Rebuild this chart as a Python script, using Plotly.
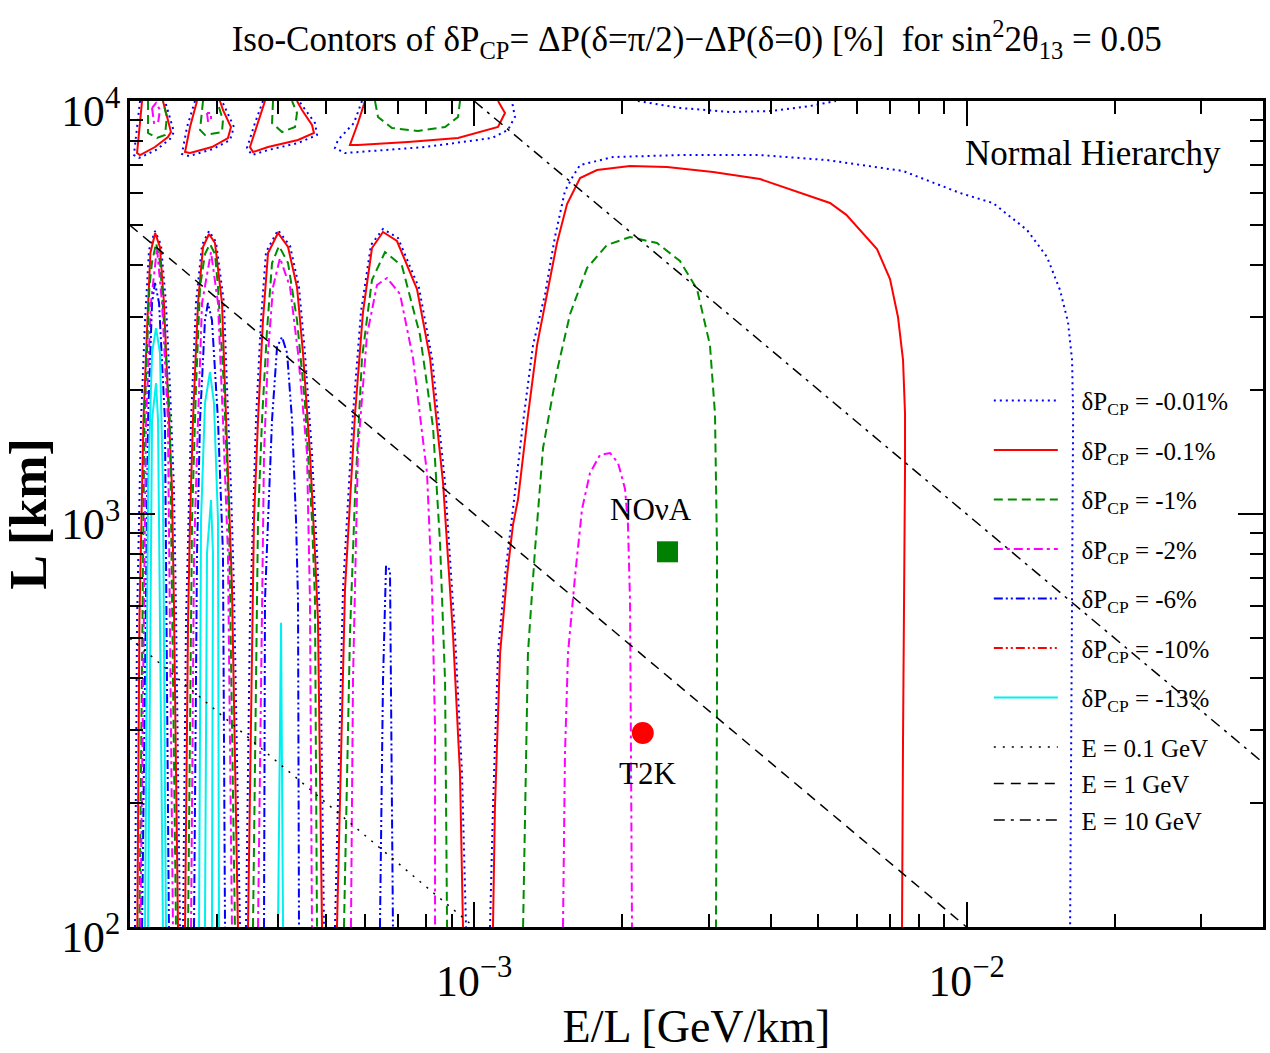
import numpy as np
import plotly.graph_objects as go

# ---------------- data (x = E/L [GeV/km], y = L [km]) ----------------
# dP = -0.01 %  (blue dotted)
b001_l1_x = [2.047e-4, 2.067e-4, 2.106e-4, 2.146e-4, 2.186e-4, 2.248e-4, 2.312e-4, 2.366e-4, 2.411e-4, 2.456e-4, 2.479e-4, 2.527e-4]
b001_l1_y = [100, 554, 1689, 2949, 4357, 4844, 4480, 3243, 2030, 1163, 609, 100]
b001_l2_x = [2.563e-4, 2.599e-4, 2.661e-4, 2.723e-4, 2.801e-4, 2.894e-4, 2.990e-4, 3.104e-4, 3.148e-4, 3.207e-4, 3.252e-4, 3.345e-4]
b001_l2_y = [100, 554, 1689, 3243, 4480, 4844, 4556, 3243, 2030, 1163, 666, 100]
b001_l3_x = [3.440e-4, 3.505e-4, 3.605e-4, 3.690e-4, 3.778e-4, 3.996e-4, 4.227e-4, 4.408e-4, 4.533e-4, 4.684e-4, 4.795e-4, 4.863e-4, 4.955e-4]
b001_l3_y = [100, 554, 1689, 2949, 4308, 4871, 4455, 3545, 2454, 1405, 805, 554, 100]
b001_l4_x = [5.216e-4, 5.415e-4, 5.674e-4, 5.890e-4, 6.172e-4, 6.529e-4, 7.003e-4, 7.727e-4, 8.212e-4, 8.728e-4, 9.144e-4, 9.447e-4, 9.626e-4]
b001_l4_y = [100, 658, 1746, 3084, 4480, 4899, 4659, 3526, 2387, 1189, 509, 236, 100]
b001_tA_x = [2.096e-4, 2.037e-4, 2.086e-4, 2.259e-4, 2.411e-4, 2.456e-4, 2.411e-4, 2.355e-4]
b001_tA_y = [10000, 7398, 7278, 7609, 8091, 8412, 9096, 10000]
b001_tB_x = [2.710e-4, 2.611e-4, 2.550e-4, 2.636e-4, 2.948e-4, 3.192e-4, 3.252e-4, 3.119e-4, 3.075e-4]
b001_tB_y = [10000, 8650, 7440, 7357, 7651, 8046, 8650, 9619, 10000]
b001_tC_x = [3.725e-4, 3.588e-4, 3.456e-4, 3.538e-4, 3.814e-4, 4.388e-4, 4.795e-4, 4.750e-4, 4.512e-4, 4.408e-4]
b001_tC_y = [10000, 8846, 7694, 7398, 7609, 7912, 8273, 8846, 9619, 10000]
b001_tD_x = [5.918e-4, 5.700e-4, 5.289e-4, 5.216e-4, 5.466e-4, 7.947e-4, 1.087e-3, 1.171e-3, 1.210e-3, 1.193e-3]
b001_tD_y = [10000, 8846, 8046, 7694, 7482, 7737, 8136, 8507, 9148, 10000]
b001_arc_x = [2.15e-3, 2.62e-3, 3.31e-3, 4.01e-3, 4.81e-3, 5.43e-3]
b001_arc_y = [10000, 9619, 9406, 9458, 9725, 10000]
b001_big_x = [1.077e-3, 1.092e-3, 1.118e-3, 1.155e-3, 1.199e-3, 1.257e-3, 1.317e-3, 1.393e-3, 1.459e-3, 1.529e-3,
              1.588e-3, 1.641e-3, 1.914e-3, 2.618e-3, 3.806e-3, 5.206e-3, 7.430e-3, 9.701e-3, 1.132e-2, 1.327e-2,
              1.457e-2, 1.548e-2, 1.607e-2, 1.638e-2, 1.646e-2, 1.638e-2, 1.623e-2]
b001_big_y = [100, 195, 461, 708, 1028, 1670, 2565, 3409, 4685, 6054,
              6583, 6998, 7317, 7398, 7398, 7195, 6769, 5987, 5662, 4871,
              4190, 3486, 2917, 2360, 1746, 524, 100]

# dP = -0.1 %  (red solid)
r01_l1_x = [2.07e-4, 2.09e-4, 2.11e-4, 2.13e-4, 2.17e-4, 2.20e-4, 2.25e-4, 2.30e-4, 2.344e-4, 2.388e-4, 2.433e-4, 2.456e-4, 2.503e-4]
r01_l1_y = [100, 554, 967, 1689, 2949, 4285, 4790, 4430, 3243, 2030, 1163, 609, 100]
r01_l2_x = [2.587e-4, 2.624e-4, 2.648e-4, 2.685e-4, 2.749e-4, 2.814e-4, 2.894e-4, 2.976e-4, 3.075e-4, 3.119e-4, 3.177e-4, 3.222e-4, 3.313e-4]
r01_l2_y = [100, 554, 967, 1689, 3243, 4430, 4764, 4530, 3243, 2030, 1163, 666, 100]
r01_l3_x = [3.473e-4, 3.538e-4, 3.571e-4, 3.639e-4, 3.725e-4, 3.814e-4, 3.996e-4, 4.188e-4, 4.367e-4, 4.491e-4, 4.640e-4, 4.750e-4, 4.817e-4, 4.909e-4]
r01_l3_y = [100, 554, 967, 1689, 2949, 4285, 4790, 4430, 3545, 2454, 1405, 805, 554, 100]
r01_l4_x = [5.265e-4, 5.466e-4, 5.728e-4, 5.946e-4, 6.201e-4, 6.529e-4, 6.970e-4, 7.654e-4, 8.135e-4, 8.646e-4, 9.059e-4, 9.359e-4, 9.491e-4]
r01_l4_y = [100, 658, 1746, 3084, 4405, 4817, 4581, 3505, 2387, 1189, 509, 236, 100]
r01_tA_x = [2.116e-4, 2.067e-4, 2.096e-4, 2.248e-4, 2.388e-4, 2.422e-4, 2.388e-4, 2.333e-4]
r01_tA_y = [10000, 7482, 7398, 7737, 8181, 8412, 8995, 10000]
r01_tB_x = [2.736e-4, 2.648e-4, 2.587e-4, 2.648e-4, 2.934e-4, 3.162e-4, 3.207e-4, 3.089e-4, 3.046e-4]
r01_tB_y = [10000, 8650, 7524, 7482, 7737, 8136, 8650, 9511, 10000]
r01_tC_x = [3.760e-4, 3.639e-4, 3.505e-4, 3.555e-4, 3.814e-4, 4.388e-4, 4.728e-4, 4.684e-4, 4.470e-4, 4.367e-4]
r01_tC_y = [10000, 8846, 7737, 7524, 7737, 8046, 8366, 8748, 9511, 10000]
r01_tD_x = [6.002e-4, 5.808e-4, 5.594e-4, 5.808e-4, 7.338e-4, 9.273e-4, 1.118e-3, 1.155e-3, 1.118e-3]
r01_tD_y = [10000, 8846, 7825, 7825, 7956, 8136, 8650, 9353, 10000]
r01_big_x = [1.092e-3, 1.102e-3, 1.129e-3, 1.166e-3, 1.199e-3, 1.228e-3, 1.281e-3, 1.342e-3, 1.406e-3, 1.473e-3,
             1.544e-3, 1.641e-3, 1.776e-3, 2.073e-3, 2.464e-3, 3.055e-3, 3.806e-3, 4.442e-3, 5.280e-3, 5.700e-3,
             6.075e-3, 6.578e-3, 6.991e-3, 7.257e-3, 7.430e-3, 7.500e-3, 7.500e-3, 7.464e-3, 7.430e-3, 7.395e-3]
r01_big_y = [100, 195, 461, 708, 941, 1087, 1670, 2565, 3409, 4530,
             5631, 6510, 6807, 6960, 6921, 6731, 6474, 6088, 5662, 5300,
             4871, 4381, 3707, 2999, 2360, 1746, 1293, 708, 287, 100]

# dP = -1 %  (green dashed)
g1_l1_x = [2.09e-4, 2.14e-4, 2.19e-4, 2.217e-4, 2.26e-4, 2.301e-4, 2.32e-4, 2.41e-4, 2.48e-4]
g1_l1_y = [100, 1689, 3545, 4075, 4530, 4075, 3545, 1689, 100]
g1_l2_x = [2.624e-4, 2.673e-4, 2.723e-4, 2.775e-4, 2.840e-4, 2.907e-4, 2.976e-4, 3.018e-4, 3.104e-4, 3.177e-4, 3.267e-4]
g1_l2_y = [100, 967, 2030, 3545, 4262, 4505, 4262, 3545, 2030, 967, 100]
g1_l3_x = [3.555e-4, 3.639e-4, 3.708e-4, 3.796e-4, 3.886e-4, 4.015e-4, 4.188e-4, 4.367e-4, 4.533e-4, 4.684e-4, 4.750e-4, 4.795e-4]
g1_l3_y = [100, 967, 1689, 2789, 4052, 4455, 4052, 2949, 1857, 967, 619, 100]
g1_l4_x = [5.440e-4, 5.594e-4, 5.728e-4, 5.918e-4, 6.201e-4, 6.591e-4, 7.136e-4, 7.762e-4, 8.250e-4, 8.525e-4, 8.728e-4, 8.810e-4]
g1_l4_y = [100, 509, 1106, 2387, 3687, 4308, 3985, 2713, 1624, 851, 394, 100]
g1_tA_x = [2.176e-4, 2.176e-4, 2.269e-4, 2.355e-4, 2.377e-4, 2.333e-4]
g1_tA_y = [10000, 8366, 8136, 8273, 9148, 10000]
g1_tB_x = [2.814e-4, 2.775e-4, 2.840e-4, 3.075e-4, 3.089e-4, 3.004e-4]
g1_tB_y = [10000, 8507, 8273, 8412, 8995, 10000]
g1_tC_x = [3.904e-4, 3.886e-4, 4.072e-4, 4.327e-4, 4.367e-4, 4.267e-4]
g1_tC_y = [10000, 8846, 8412, 8650, 9353, 10000]
g1_tD_x = [6.289e-4, 6.378e-4, 6.809e-4, 7.691e-4, 8.728e-4, 9.273e-4, 9.359e-4]
g1_tD_y = [10000, 9148, 8602, 8460, 8650, 9148, 10000]
g1_big_x = [1.257e-3, 1.269e-3, 1.286e-3, 1.329e-3, 1.380e-3, 1.473e-3, 1.566e-3, 1.695e-3, 1.861e-3, 2.073e-3,
            2.351e-3, 2.618e-3, 2.835e-3, 3.012e-3, 3.084e-3, 3.113e-3, 3.113e-3, 3.098e-3]
g1_big_y = [100, 195, 461, 818, 1445, 2220, 3050, 3940, 4480, 4685,
            4530, 4098, 3505, 2565, 1746, 818, 347, 100]

# dP = -2 %  (magenta dash-dot)
m2_l1_x = [2.10e-4, 2.156e-4, 2.206e-4, 2.269e-4, 2.323e-4, 2.388e-4, 2.445e-4]
m2_l1_y = [100, 1689, 3243, 4405, 3243, 1689, 100]
m2_l2_x = [2.661e-4, 2.698e-4, 2.749e-4, 2.801e-4, 2.921e-4, 3.018e-4, 3.089e-4, 3.162e-4, 3.222e-4]
m2_l2_y = [100, 805, 1689, 3243, 4308, 3243, 1689, 805, 100]
m2_l3_x = [3.639e-4, 3.743e-4, 3.814e-4, 3.904e-4, 4.034e-4, 4.227e-4, 4.388e-4, 4.576e-4, 4.640e-4, 4.684e-4]
m2_l3_y = [100, 1405, 2454, 3545, 4167, 3545, 2454, 1405, 619, 100]
m2_l4_x = [5.621e-4, 5.674e-4, 5.808e-4, 6.058e-4, 6.348e-4, 6.653e-4, 7.069e-4, 7.512e-4, 8.021e-4, 8.212e-4, 8.328e-4, 8.328e-4]
m2_l4_y = [100, 394, 1429, 2713, 3585, 3728, 3409, 2387, 1257, 658, 305, 100]
m2_tA_x = [2.217e-4, 2.238e-4, 2.280e-4, 2.301e-4, 2.259e-4, 2.217e-4]
m2_tA_y = [9619, 8846, 8846, 9511, 9889, 9619]
m2_tB_x = [2.867e-4, 2.880e-4, 2.921e-4, 2.921e-4, 2.867e-4]
m2_tB_y = [9353, 8945, 8945, 9353, 9353]
m2_big_x = [1.515e-3, 1.529e-3, 1.551e-3, 1.603e-3, 1.656e-3, 1.719e-3, 1.801e-3, 1.888e-3, 1.960e-3, 2.025e-3,
            2.053e-3, 2.073e-3, 2.082e-3, 2.092e-3]
m2_big_y = [100, 261, 461, 708, 1028, 1257, 1390, 1405, 1329, 1150,
            941, 612, 261, 100]

# dP = -6 %  (blue dash-dot-dot)
b6_l1_x = [2.116e-4, 2.176e-4, 2.217e-4, 2.248e-4, 2.291e-4, 2.355e-4, 2.399e-4]
b6_l1_y = [100, 1689, 3243, 3626, 3243, 1689, 100]
b6_l2_x = [2.698e-4, 2.736e-4, 2.775e-4, 2.840e-4, 2.880e-4, 2.934e-4, 3.018e-4, 3.089e-4, 3.119e-4]
b6_l2_y = [100, 805, 1689, 2949, 3243, 2949, 1689, 805, 100]
b6_l3_x = [3.743e-4, 3.760e-4, 3.814e-4, 3.886e-4, 3.978e-4, 4.072e-4, 4.169e-4, 4.267e-4, 4.347e-4, 4.388e-4, 4.408e-4]
b6_l3_y = [100, 619, 967, 1689, 2537, 2683, 2454, 1689, 967, 619, 100]
b6_l4_x = [6.437e-4, 6.529e-4, 6.622e-4, 6.746e-4, 6.840e-4]
b6_l4_y = [100, 394, 748, 732, 100]

# dP = -13 %  (cyan solid)
c13_l1a_x = [2.146e-4, 2.176e-4, 2.217e-4, 2.259e-4, 2.301e-4, 2.333e-4, 2.366e-4]
c13_l1a_y = [100, 1163, 2454, 2820, 2454, 1163, 100]
c13_l1b_x = [2.176e-4, 2.217e-4, 2.259e-4, 2.280e-4, 2.333e-4]
c13_l1b_y = [100, 1689, 2076, 1689, 100]
c13_l2a_x = [2.762e-4, 2.788e-4, 2.840e-4, 2.907e-4, 2.962e-4, 3.018e-4, 3.032e-4]
c13_l2a_y = [100, 967, 1857, 2207, 1857, 967, 100]
c13_l2b_x = [2.840e-4, 2.867e-4, 2.921e-4, 2.948e-4, 2.934e-4]
c13_l2b_y = [100, 805, 1081, 805, 100]
c13_l3_x = [3.996e-4, 4.053e-4, 4.091e-4]
c13_l3_y = [100, 545, 100]

# lines of constant energy: end points
e01_x = [2.0e-4, 1.0e-3]
e01_y = [500, 100]
e1_x = [2.0e-4, 1.0e-2]
e1_y = [5000, 100]
e10_x = [1.0e-3, 4.0e-2]
e10_y = [10000, 250]

# experiments
nova_x, nova_y = [2.47e-3], [810]
t2k_x, t2k_y = [2.2e-3], [295]


def join(*segs):
    xs, ys = [], []
    for sx, sy in segs:
        if xs:
            xs.append(None)
            ys.append(None)
        xs.extend(sx)
        ys.extend(sy)
    return xs, ys


FONT = "Liberation Serif"
BLUE, RED, GREEN, MAG, CYAN = "#0000ff", "#ff0000", "#008c00", "#ff00ff", "#00f0f0"
PAD = "\u00a0\u00a0\u00a0"

fig = go.Figure()

levels = [
    ("δP<sub>CP</sub> = -0.01%", BLUE, "2px,4px", 2,
     [(b001_l1_x, b001_l1_y), (b001_l2_x, b001_l2_y), (b001_l3_x, b001_l3_y), (b001_l4_x, b001_l4_y),
      (b001_tA_x, b001_tA_y), (b001_tB_x, b001_tB_y), (b001_tC_x, b001_tC_y), (b001_tD_x, b001_tD_y),
      (b001_arc_x, b001_arc_y), (b001_big_x, b001_big_y)]),
    ("δP<sub>CP</sub> = -0.1%", RED, "solid", 2,
     [(r01_l1_x, r01_l1_y), (r01_l2_x, r01_l2_y), (r01_l3_x, r01_l3_y), (r01_l4_x, r01_l4_y),
      (r01_tA_x, r01_tA_y), (r01_tB_x, r01_tB_y), (r01_tC_x, r01_tC_y), (r01_tD_x, r01_tD_y),
      (r01_big_x, r01_big_y)]),
    ("δP<sub>CP</sub> = -1%", GREEN, "9px,5px", 2,
     [(g1_l1_x, g1_l1_y), (g1_l2_x, g1_l2_y), (g1_l3_x, g1_l3_y), (g1_l4_x, g1_l4_y),
      (g1_tA_x, g1_tA_y), (g1_tB_x, g1_tB_y), (g1_tC_x, g1_tC_y), (g1_tD_x, g1_tD_y),
      (g1_big_x, g1_big_y)]),
    ("δP<sub>CP</sub> = -2%", MAG, "9px,4px,3px,4px", 2,
     [(m2_l1_x, m2_l1_y), (m2_l2_x, m2_l2_y), (m2_l3_x, m2_l3_y), (m2_l4_x, m2_l4_y),
      (m2_tA_x, m2_tA_y), (m2_tB_x, m2_tB_y), (m2_big_x, m2_big_y)]),
    ("δP<sub>CP</sub> = -6%", BLUE, "9px,3px,2px,3px,2px,3px", 2,
     [(b6_l1_x, b6_l1_y), (b6_l2_x, b6_l2_y), (b6_l3_x, b6_l3_y), (b6_l4_x, b6_l4_y)]),
    ("δP<sub>CP</sub> = -10%", RED, "9px,3px,2px,3px,2px,3px", 2, []),
    ("δP<sub>CP</sub> = -13%", CYAN, "solid", 2,
     [(c13_l1a_x, c13_l1a_y), (c13_l1b_x, c13_l1b_y), (c13_l2a_x, c13_l2a_y),
      (c13_l2b_x, c13_l2b_y), (c13_l3_x, c13_l3_y)]),
]

for i, (name, col, dash, w, segs) in enumerate(levels):
    if segs:
        xs, ys = join(*segs)
    else:
        xs, ys = [None], [None]
    fig.add_trace(go.Scatter(x=xs, y=ys, mode="lines", name=PAD + name, legendgroup=f"g{i}",
                             line=dict(color=col, dash=dash, width=w), legend="legend"))

elines = [
    ("E = 0.1 GeV", e01_x, e01_y, "2px,7px"),
    ("E = 1 GeV", e1_x, e1_y, "10px,7px"),
    ("E = 10 GeV", e10_x, e10_y, "11px,6px,3px,6px"),
]
for j, (name, ex, ey, dash) in enumerate(elines):
    fig.add_trace(go.Scatter(x=ex, y=ey, mode="lines", name=PAD + name, legendgroup=f"e{j}",
                             line=dict(color="black", dash=dash, width=1.5), legend="legend2"))

fig.add_trace(go.Scatter(x=nova_x, y=nova_y, mode="markers", showlegend=False,
                         marker=dict(symbol="square", size=21, color="#008000")))
fig.add_trace(go.Scatter(x=t2k_x, y=t2k_y, mode="markers", showlegend=False,
                         marker=dict(symbol="circle", size=22, color=RED)))

fig.add_annotation(x=np.log10(nova_x[0]), y=np.log10(nova_y[0]), xref="x", yref="y",
                   text="NOνA", showarrow=False, xshift=-17, yshift=42,
                   xanchor="center", yanchor="middle",
                   font=dict(family=FONT, size=31, color="black"))
fig.add_annotation(x=np.log10(t2k_x[0]), y=np.log10(t2k_y[0]), xref="x", yref="y",
                   text="T2K", showarrow=False, xshift=5, yshift=-41,
                   xanchor="center", yanchor="middle",
                   font=dict(family=FONT, size=31, color="black"))
fig.add_annotation(x=0.85, y=0.937, xref="paper", yref="paper", text="Normal Hierarchy",
                   showarrow=False, xanchor="center", yanchor="middle",
                   font=dict(family=FONT, size=35, color="black"))

axis_common = dict(
    type="log", showline=True, linewidth=2.5, linecolor="black", mirror="allticks",
    ticks="inside", ticklen=25, tickwidth=2, tickcolor="black", showgrid=False, zeroline=False,
    dtick=1, exponentformat="power", showexponent="all", automargin=False,
    tickfont=dict(family=FONT, size=35, color="black"),
    minor=dict(ticks="inside", ticklen=13, tickwidth=1.5, tickcolor="black", showgrid=False),
)

fig.update_layout(
    width=1270, height=1053,
    margin=dict(l=130, r=7, t=101, b=126),
    paper_bgcolor="white", plot_bgcolor="white",
    font=dict(family=FONT, color="black"),
    title=dict(text="Iso-Contors of δP<sub>CP</sub>= ΔP(δ=π/2)−ΔP(δ=0) [%]  for sin<sup>2</sup>2θ<sub>13</sub> = 0.05",
               x=0.5486, xanchor="center", y=0.963, yanchor="middle",
               font=dict(family=FONT, size=35, color="black")),
    xaxis=dict(axis_common, range=[np.log10(2e-4), np.log10(4e-2)], ticklabelstandoff=15,
               title=dict(text="E/L [GeV/km]", font=dict(family=FONT, size=46), standoff=7)),
    yaxis=dict(axis_common, range=[2, 4], ticklabelshift=10,
               title=dict(text="<b>L [km]</b>", font=dict(family=FONT, size=52), standoff=10)),
    legend=dict(x=0.758, y=0.665, xanchor="left", yanchor="top", bgcolor="rgba(0,0,0,0)",
                font=dict(family=FONT, size=25, color="black"), tracegroupgap=14, itemwidth=64),
    legend2=dict(x=0.758, y=0.2455, xanchor="left", yanchor="top", bgcolor="rgba(0,0,0,0)",
                 font=dict(family=FONT, size=25, color="black"), tracegroupgap=1, itemwidth=64),
)

fig.write_html("out.html")
